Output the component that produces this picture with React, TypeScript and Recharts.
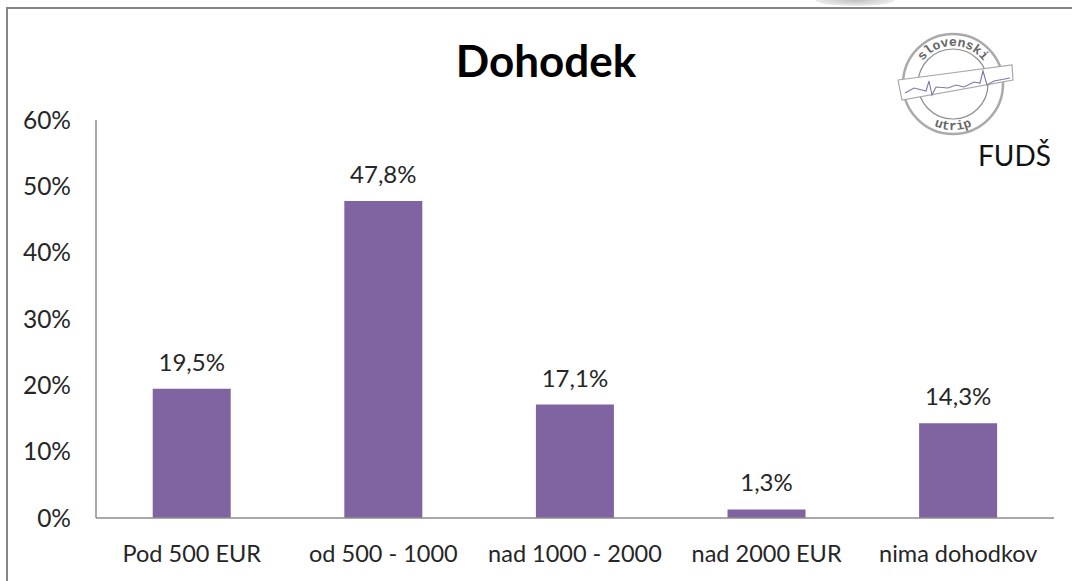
import React from 'react';
import { BarChart, Bar, XAxis, YAxis, LabelList } from 'recharts';

const categories = ['Pod 500 EUR', 'od 500 - 1000', 'nad 1000 - 2000', 'nad 2000 EUR', 'nima dohodkov'];
const shares = [19.5, 47.8, 17.1, 1.3, 14.3];
const yTicks = [0, 10, 20, 30, 40, 50, 60];

const chartData = categories.map((name, i) => ({ name, share: shares[i] }));

const FONT = 'Lato, sans-serif';
const TEXT = '#262626';
const AXIS = '#8c8c8c';

const pct = (v: any) => `${String(v).replace('.', ',')}%`;

const Logo = () => (
  <svg width={130} height={130} viewBox="0 0 130 130" style={{ position: 'absolute', left: 890, top: 25 }}>
    <defs>
      <path id="ringTop" d="M 25 59 A 38 38 0 0 1 101 59" />
      <path id="ringBottom" d="M 17 59 A 46 46 0 0 0 109 59" />
    </defs>
    <circle cx={63} cy={59} r={50} fill="none" stroke="#aaa" strokeWidth={2.5} />
    <circle cx={63} cy={59} r={35} fill="none" stroke="#8c8c8c" strokeWidth={1.2} />
    <path d="M 8 55 L 122 40 L 123 55 L 12 75 Z" fill="#fff" stroke="#a8a8a8" strokeWidth={1.2} />
    <path
      d="M 15 68 L 24 63 L 32 65 L 36 66 L 39 56 L 42 70 L 46 62 L 58 63 L 66 60 L 74 62 L 84 57 L 90 58 L 93 46 L 97 60 L 104 56 L 120 53"
      fill="none"
      stroke="#7d78ad"
      strokeWidth={1.1}
    />
    <text fontFamily="Liberation Mono, monospace" fontWeight={700} fontSize={13} fill="#666" textAnchor="middle">
      <textPath href="#ringTop" startOffset="50%">slovenski</textPath>
    </text>
    <text fontFamily="Liberation Mono, monospace" fontWeight={700} fontSize={13} fill="#666" textAnchor="middle">
      <textPath href="#ringBottom" startOffset="50%">utrip</textPath>
    </text>
  </svg>
);

export default function App() {
  return (
    <div style={{ position: 'absolute', left: 0, top: 0, width: 1072, height: 581, overflow: 'hidden', background: '#fff' }}>
      <BarChart
        width={1072}
        height={581}
        data={chartData}
        margin={{ top: 120, right: 18, bottom: 0, left: 0 }}
        barCategoryGap="29.6%"
      >
        <XAxis
          dataKey="name"
          height={63}
          interval={0}
          tickLine={false}
          axisLine={{ stroke: AXIS, strokeWidth: 1.5 }}
          tick={{ fontFamily: FONT, fontSize: 23.5, fill: TEXT }}
          tickMargin={21}
        />
        <YAxis
          width={96}
          domain={[0, 60]}
          ticks={yTicks}
          tickFormatter={pct}
          tickLine={false}
          axisLine={{ stroke: AXIS, strokeWidth: 1.5 }}
          tick={{ fontFamily: FONT, fontSize: 24.5, fill: TEXT }}
          tickMargin={19}
        />
        <Bar dataKey="share" fill="#8064a2" isAnimationActive={false}>
          <LabelList
            dataKey="share"
            position="top"
            offset={18}
            formatter={pct}
            style={{ fontFamily: FONT, fontSize: 24, fill: TEXT }}
          />
        </Bar>
      </BarChart>
      {/* soft grey shadow above the frame */}
      <div
        style={{
          position: 'absolute',
          left: 815,
          top: -6,
          width: 80,
          height: 12,
          borderRadius: '50%',
          background: 'radial-gradient(ellipse at center, #bdbdbd 0%, #ffffff 100%)',
        }}
      />
      <div
        style={{
          position: 'absolute',
          left: 6,
          top: 7,
          width: 1080,
          height: 600,
          border: '2.5px solid #868686',
          boxSizing: 'border-box',
        }}
      />
      <div
        style={{
          position: 'absolute',
          left: 0,
          top: 35,
          width: 1092,
          textAlign: 'center',
          fontFamily: FONT,
          fontWeight: 700,
          fontSize: 44,
          lineHeight: '50px',
          color: '#000',
        }}
      >
        Dohodek
      </div>
      <Logo />
      <div
        style={{
          position: 'absolute',
          left: 978,
          top: 139,
          fontFamily: FONT,
          fontSize: 28,
          lineHeight: '32px',
          color: '#111',
        }}
      >
        FUDŠ
      </div>
    </div>
  );
}
